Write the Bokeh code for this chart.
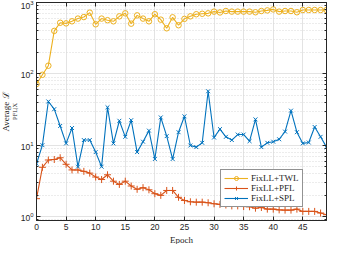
from bokeh.plotting import figure
from bokeh.models import (Range1d, FixedTicker, LinearAxis, Title,
                          Legend, LegendItem)
from bokeh.embed import file_html
from bokeh.resources import INLINE

epochs = list(range(50))
twl = [72, 97, 130, 400, 520, 510, 545, 595, 625, 720, 495, 595, 565, 545,
       640, 705, 505, 660, 595, 545, 685, 575, 435, 620, 480, 590, 640, 685,
       695, 705, 745, 725, 760, 745, 745, 745, 745, 730, 760, 775, 800, 745,
       760, 760, 730, 785, 785, 785, 785, 785]
pfl = [1.78, 4.9, 6.2, 6.3, 6.67, 5.4, 4.5, 4.5, 4.3, 4.06, 3.58, 3.3, 3.85,
       3.13, 2.82, 3.13, 2.68, 2.41, 2.54, 2.37, 2.09, 1.98, 2.32, 2.32, 1.86,
       1.68, 1.61, 1.59, 1.59, 1.56, 1.51, 1.48, 1.45, 1.41, 1.41, 1.38, 1.37,
       1.31, 1.34, 1.27, 1.27, 1.24, 1.23, 1.23, 1.27, 1.18, 1.18, 1.18, 1.12,
       1.06]
spl = [5.5, 10.0, 41, 32, 18.6, 10.6, 17.4, 5.0, 11.8, 11.8, 8.0, 5.0, 34,
       10.6, 22, 13.1, 22.4, 8.0, 11.2, 16, 6.4, 24.5, 13.4, 6.4, 15.2, 25.4,
       9.9, 9.4, 10.8, 57, 12.8, 16.8, 13.1, 11.8, 14.1, 14.1, 11.4, 23, 9.4,
       10.8, 11.2, 12.1, 15.5, 30.5, 15.2, 10.6, 10.9, 18, 13.1, 9.4]
series_names = ["FixLL+TWL", "FixLL+PFL", "FixLL+SPL"]
x_ticks = [0, 5, 10, 15, 20, 25, 30, 35, 40, 45]
y_ticks = [1, 10, 100, 1000]
y_minor = [m * 10 ** e for e in range(-1, 3) for m in range(2, 10)]

C_TWL = "#EDB120"
C_PFL = "#D95319"
C_SPL = "#0072BD"
AX = "#262626"
SERIF = "Liberation Serif"
SANS = "Liberation Sans"

p = figure(width=330, height=244, y_axis_type="log",
           x_range=Range1d(0, 49), y_range=Range1d(0.88, 1000),
           output_backend="svg", toolbar_location=None,
           min_border_left=0, min_border_right=4, min_border_top=2,
           min_border_bottom=0)
p.outline_line_color = AX
p.background_fill_color = "white"
p.border_fill_color = "white"

# axes
xa = p.xaxis[0]
xa.ticker = FixedTicker(ticks=x_ticks)
ya = p.yaxis[0]
ya.ticker = FixedTicker(ticks=y_ticks, minor_ticks=y_minor)
for a in (xa, ya):
    a.axis_line_color = AX
    a.major_tick_line_color = AX
    a.minor_tick_line_color = AX
    a.major_tick_in = 4
    a.major_tick_out = 0
    a.minor_tick_in = 2
    a.minor_tick_out = 0
    a.major_label_text_font = SANS
    a.major_label_text_font_size = "8.5px"
    a.major_label_text_color = AX
    a.major_label_standoff = 3
xa.minor_tick_line_color = None

top = LinearAxis(ticker=FixedTicker(ticks=x_ticks),
                 major_label_text_font_size="1px", major_label_text_color=None,
                 major_tick_in=4, major_tick_out=0, minor_tick_line_color=None,
                 axis_line_color=AX, major_tick_line_color=AX,
                 major_label_standoff=0)
right = LinearAxis(ticker=FixedTicker(ticks=y_ticks, minor_ticks=y_minor),
                   major_label_text_font_size="1px", major_label_text_color=None,
                   major_tick_in=4, major_tick_out=0,
                   minor_tick_in=2, minor_tick_out=0, axis_line_color=AX,
                   major_tick_line_color=AX, minor_tick_line_color=AX,
                   major_label_standoff=0)
p.add_layout(top, "above")
p.add_layout(right, "right")

# grids
p.xgrid.ticker = FixedTicker(ticks=x_ticks)
p.xgrid.grid_line_color = "#e3e3e3"
p.ygrid.ticker = FixedTicker(ticks=y_ticks, minor_ticks=y_minor)
p.ygrid.grid_line_color = "#e3e3e3"
p.ygrid.minor_grid_line_color = "#d9d9d9"
p.ygrid.minor_grid_line_dash = "1 2"

# series
l1 = p.line(epochs, twl, line_color=C_TWL, line_width=1.1)
m1 = p.scatter(epochs, twl, marker="circle", size=5.5, fill_color=None,
               line_color=C_TWL, line_width=1)
l2 = p.line(epochs, pfl, line_color=C_PFL, line_width=1.1)
m2 = p.scatter(epochs, pfl, marker="cross", size=7, line_color=C_PFL, line_width=1)
l3 = p.line(epochs, spl, line_color=C_SPL, line_width=1.1)
m3 = p.scatter(epochs, spl, marker="x", size=5.5, line_color=C_SPL, line_width=1)

legend = Legend(items=[LegendItem(label=series_names[0], renderers=[l1, m1]),
                       LegendItem(label=series_names[1], renderers=[l2, m2]),
                       LegendItem(label=series_names[2], renderers=[l3, m3])],
                location=(184, 13), label_text_font=SERIF,
                label_text_font_size="9px", label_text_color=AX,
                glyph_width=24, glyph_height=10, label_height=10,
                label_standoff=3, spacing=0, padding=3, margin=0,
                border_line_color=AX, border_line_width=1,
                background_fill_alpha=1.0)
p.add_layout(legend, "center")

# axis titles
p.add_layout(Title(text="Epoch", align="center", text_font=SERIF,
                   text_font_size="9px", text_font_style="normal",
                   text_color=AX, standoff=0, offset=0), "below")
p.add_layout(Title(text="PFL|X", align="center", text_font=SERIF,
                   text_font_size="6.5px", text_font_style="normal",
                   text_color=AX, standoff=0, offset=-46,
                   text_line_height=0.2), "left")
p.add_layout(Title(text="Average ℒ", align="center", text_font=SERIF,
                   text_font_size="9px", text_font_style="normal",
                   text_color=AX, standoff=-4, offset=6,
                   text_line_height=0.9), "left")

open("out.html", "w").write(file_html(p, INLINE))
